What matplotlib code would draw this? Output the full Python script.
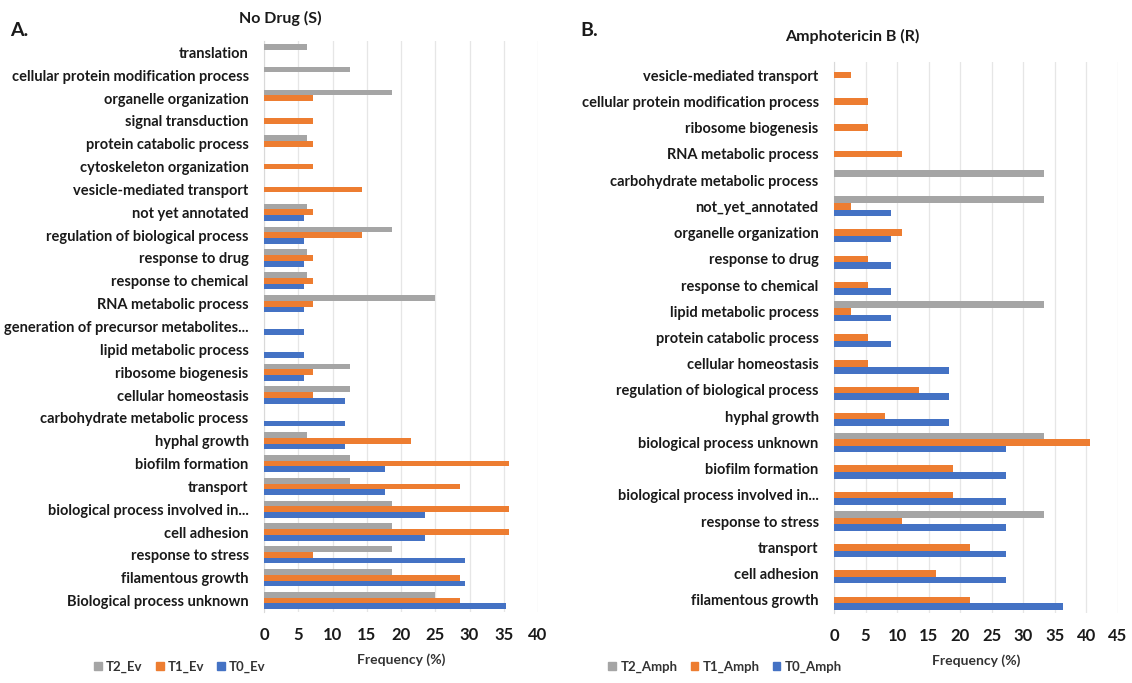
import matplotlib
matplotlib.use("Agg")
import matplotlib.pyplot as plt
from matplotlib.patches import Patch

plt.rcParams["font.family"] = ["Lato", "DejaVu Sans"]

# GO biological process frequencies (%), no drug (S)
cats_s = [
    "translation", "cellular protein modification process", "organelle organization",
    "signal transduction", "protein catabolic process", "cytoskeleton organization",
    "vesicle-mediated transport", "not yet annotated", "regulation of biological process",
    "response to drug", "response to chemical", "RNA metabolic process",
    "generation of precursor metabolites...", "lipid metabolic process", "ribosome biogenesis",
    "cellular homeostasis", "carbohydrate metabolic process", "hyphal growth",
    "biofilm formation", "transport", "biological process involved in...",
    "cell adhesion", "response to stress", "filamentous growth", "Biological process unknown",
]
t2_ev = [6.25, 12.5, 18.75, 0, 6.25, 0, 0, 6.25, 18.75, 6.25, 6.25, 25,
         0, 0, 12.5, 12.5, 0, 6.25, 12.5, 12.5, 18.75, 18.75, 18.75, 18.75, 25]
t1_ev = [0, 0, 7.14, 7.14, 7.14, 7.14, 14.29, 7.14, 14.29, 7.14, 7.14, 7.14,
         0, 0, 7.14, 7.14, 0, 21.43, 35.71, 28.57, 35.71, 35.71, 7.14, 28.57, 28.57]
t0_ev = [0, 0, 0, 0, 0, 0, 0, 5.88, 5.88, 5.88, 5.88, 5.88,
         5.88, 5.88, 5.88, 11.76, 11.76, 11.76, 17.65, 17.65, 23.53, 23.53, 29.41, 29.41, 35.29]

# Amphotericin B (R)
cats_r = [
    "vesicle-mediated transport", "cellular protein modification process", "ribosome biogenesis",
    "RNA metabolic process", "carbohydrate metabolic process", "not_yet_annotated",
    "organelle organization", "response to drug", "response to chemical",
    "lipid metabolic process", "protein catabolic process", "cellular homeostasis",
    "regulation of biological process", "hyphal growth", "biological process unknown",
    "biofilm formation", "biological process involved in...", "response to stress",
    "transport", "cell adhesion", "filamentous growth",
]
t2_amph = [0, 0, 0, 0, 33.33, 33.33, 0, 0, 0, 33.33, 0, 0, 0, 0, 33.33, 0, 0, 33.33, 0, 0, 0]
t1_amph = [2.70, 5.41, 5.41, 10.81, 0, 2.70, 10.81, 5.41, 5.41, 2.70, 5.41, 5.41,
           13.51, 8.11, 40.54, 18.92, 18.92, 10.81, 21.62, 16.22, 21.62]
t0_amph = [0, 0, 0, 0, 0, 9.09, 9.09, 9.09, 9.09, 9.09, 9.09, 18.18,
           18.18, 18.18, 27.27, 27.27, 27.27, 27.27, 27.27, 27.27, 36.36]

GRAY, ORANGE, BLUE = "#A5A5A5", "#ED7D31", "#4472C4"
BAR_H = 0.25
TXT = "#1a1a1a"


def draw_panel(ax, cats, series, xmax):
    n = len(cats)
    ys = list(range(n))
    # top to bottom within a group: T2, T1, T0
    for k, (vals, col) in enumerate(series):
        off = (k - 1) * BAR_H
        ax.barh([y + off for y in ys], vals, height=BAR_H, color=col, zorder=3)
    ax.set_yticks(ys)
    ax.set_yticklabels(cats, fontsize=10.5, fontweight="bold", color=TXT)
    ax.set_ylim(n - 0.5, -0.5)
    ax.set_xlim(0, xmax)
    ax.set_xticks(range(0, xmax + 1, 5))
    ax.tick_params(axis="x", length=0, pad=11, labelsize=12, labelcolor=TXT)
    ax.tick_params(axis="y", length=0, pad=11)
    for lab in ax.get_xticklabels():
        lab.set_fontweight("bold")
    ax.grid(axis="x", color="#E6E6E6", linewidth=0.9, zorder=0)
    for s in ["top", "right", "bottom"]:
        ax.spines[s].set_visible(False)
    ax.spines["left"].set_color("#D9D9D9")
    ax.set_xlabel("Frequency (%)", fontsize=10, fontweight="bold", color="#333333", labelpad=7)


fig = plt.figure(figsize=(11.32, 6.83), dpi=100)

ax_s = fig.add_axes([264 / 1132, 1 - 612 / 683, 274 / 1132, 571 / 683])
draw_panel(ax_s, cats_s, [(t2_ev, GRAY), (t1_ev, ORANGE), (t0_ev, BLUE)], 40)

ax_r = fig.add_axes([834 / 1132, 1 - 613 / 683, 284 / 1132, 551 / 683])
draw_panel(ax_r, cats_r, [(t2_amph, GRAY), (t1_amph, ORANGE), (t0_amph, BLUE)], 45)

fig.text(280 / 1132, 1 - 18 / 683, "No Drug (S)", ha="center", va="center",
         fontsize=11.5, fontweight="bold", color=TXT)
fig.text(852 / 1132, 1 - 36 / 683, "Amphotericin B (R)", ha="center", va="center",
         fontsize=11.5, fontweight="bold", color=TXT)
fig.text(10 / 1132, 1 - 31 / 683, "A.", ha="left", va="center",
         fontsize=14, fontweight="bold", color=TXT)
fig.text(580 / 1132, 1 - 31 / 683, "B.", ha="left", va="center",
         fontsize=14, fontweight="bold", color=TXT)


def add_legend(names, x_center):
    handles = [Patch(color=c) for c in (GRAY, ORANGE, BLUE)]
    fig.legend(handles, names, loc="center", bbox_to_anchor=(x_center / 1132, 1 - 667 / 683),
               ncol=3, frameon=False, handlelength=0.6, handleheight=0.6,
               handletextpad=0.3, columnspacing=1.0,
               prop={"size": 9.5, "weight": "bold"}, labelcolor="#333333")


add_legend(["T2_Ev", "T1_Ev", "T0_Ev"], 180)
add_legend(["T2_Amph", "T1_Amph", "T0_Amph"], 725)

fig.savefig("out.png", dpi=100)
